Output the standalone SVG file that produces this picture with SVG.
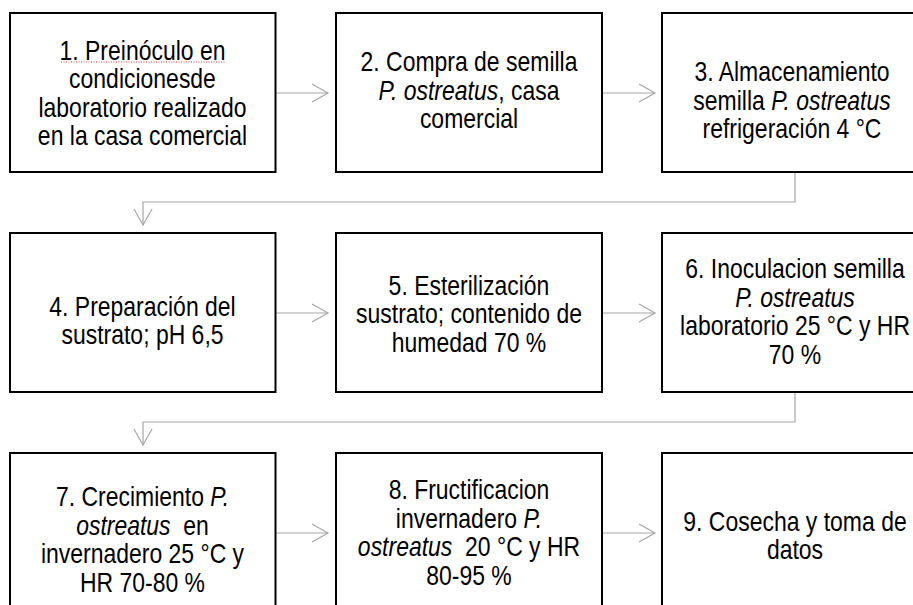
<svg xmlns="http://www.w3.org/2000/svg" width="913" height="605" viewBox="0 0 913 605">
<style>
.box{fill:#fff;stroke:#000;stroke-width:2}
.t{font-family:"Liberation Sans",Arial,sans-serif;font-size:27.5px;fill:#000;text-anchor:middle}
.i{font-style:italic}
.c{fill:none;stroke:#a6a6a6;stroke-width:1.2}
</style>
<defs>
<marker id="ah" markerUnits="userSpaceOnUse" viewBox="-18 -11 20 22" markerWidth="20" markerHeight="22" refX="0" refY="0" orient="auto">
<path d="M-16,-9 L0,0 L-16,9" fill="none" stroke="#a6a6a6" stroke-width="1.2"/>
</marker>
</defs>
<rect width="913" height="605" fill="#fff"/>
<g id="connectors">
<line class="c" x1="276" y1="93" x2="328" y2="93" marker-end="url(#ah)"/>
<line class="c" x1="603" y1="93" x2="655" y2="93" marker-end="url(#ah)"/>
<path class="c" d="M795,173 V202 H143 V225" marker-end="url(#ah)"/>
<line class="c" x1="276" y1="313" x2="328" y2="313" marker-end="url(#ah)"/>
<line class="c" x1="603" y1="313" x2="655" y2="313" marker-end="url(#ah)"/>
<path class="c" d="M795,393 V422 H143 V445" marker-end="url(#ah)"/>
<line class="c" x1="276" y1="533" x2="328" y2="533" marker-end="url(#ah)"/>
<line class="c" x1="603" y1="533" x2="655" y2="533" marker-end="url(#ah)"/>
</g>
<g id="n1">
<rect class="box" x="10" y="13" width="265.5" height="159"/>
<line x1="61" y1="62" x2="226" y2="62" stroke="#e04040" stroke-width="1" stroke-dasharray="1 1.5"/>
<g transform="translate(142.5,0) scale(0.835,1)">
<text class="t" x="0" y="60">1. Preinóculo en</text>
<text class="t" x="0" y="88.5">condicionesde</text>
<text class="t" x="0" y="117">laboratorio realizado</text>
<text class="t" x="0" y="145.5">en la casa comercial</text>
</g>
</g>
<g id="n2">
<rect class="box" x="336" y="13" width="266" height="159"/>
<g transform="translate(469,0) scale(0.835,1)">
<text class="t" x="0" y="71.5">2. Compra de semilla</text>
<text class="t" x="0" y="100"><tspan class="i">P. ostreatus</tspan>, casa</text>
<text class="t" x="0" y="128.5">comercial</text>
</g>
</g>
<g id="n3">
<rect class="box" x="662" y="13" width="266" height="159"/>
<g transform="translate(792,0) scale(0.835,1)">
<text class="t" x="0" y="81.5">3. Almacenamiento</text>
<text class="t" x="0" y="110">semilla <tspan class="i">P. ostreatus</tspan></text>
<text class="t" x="0" y="138.5">refrigeración 4 °C</text>
</g>
</g>
<g id="n4">
<rect class="box" x="10" y="233" width="265.5" height="159"/>
<g transform="translate(142.5,0) scale(0.835,1)">
<text class="t" x="0" y="316">4. Preparación del</text>
<text class="t" x="0" y="344.5">sustrato; pH 6,5</text>
</g>
</g>
<g id="n5">
<rect class="box" x="336" y="233" width="266" height="159"/>
<g transform="translate(469,0) scale(0.835,1)">
<text class="t" x="0" y="295">5. Esterilización</text>
<text class="t" x="0" y="323.5">sustrato; contenido de</text>
<text class="t" x="0" y="352">humedad 70 %</text>
</g>
</g>
<g id="n6">
<rect class="box" x="662" y="233" width="266" height="159"/>
<g transform="translate(795,0) scale(0.835,1)">
<text class="t" x="0" y="278.5"><tspan>6. Inoculacion semilla</tspan></text>
<text class="t" x="0" y="307"><tspan class="i">P. ostreatus</tspan></text>
<text class="t" x="0" y="335.5">laboratorio 25 °C y HR</text>
<text class="t" x="0" y="364">70 %</text>
</g>
</g>
<g id="n7">
<rect class="box" x="10" y="453" width="265.5" height="159"/>
<g transform="translate(142.5,0) scale(0.835,1)">
<text class="t" x="0" y="506.5">7. Crecimiento <tspan class="i">P.</tspan></text>
<text class="t" x="0" y="535" xml:space="preserve"><tspan class="i">ostreatus</tspan>  en</text>
<text class="t" x="0" y="563.5">invernadero 25 °C y</text>
<text class="t" x="0" y="592">HR 70-80 %</text>
</g>
</g>
<g id="n8">
<rect class="box" x="336" y="453" width="266" height="159"/>
<g transform="translate(469,0) scale(0.835,1)">
<text class="t" x="0" y="499.5">8. Fructificacion</text>
<text class="t" x="0" y="528">invernadero <tspan class="i">P.</tspan></text>
<text class="t" x="0" y="556.5" xml:space="preserve"><tspan class="i">ostreatus</tspan>  20 °C y HR</text>
<text class="t" x="0" y="585">80-95 %</text>
</g>
</g>
<g id="n9">
<rect class="box" x="662" y="453" width="266" height="159"/>
<g transform="translate(795,0) scale(0.835,1)">
<text class="t" x="0" y="531.5">9. Cosecha y toma de</text>
<text class="t" x="0" y="559">datos</text>
</g>
</g>
</svg>
